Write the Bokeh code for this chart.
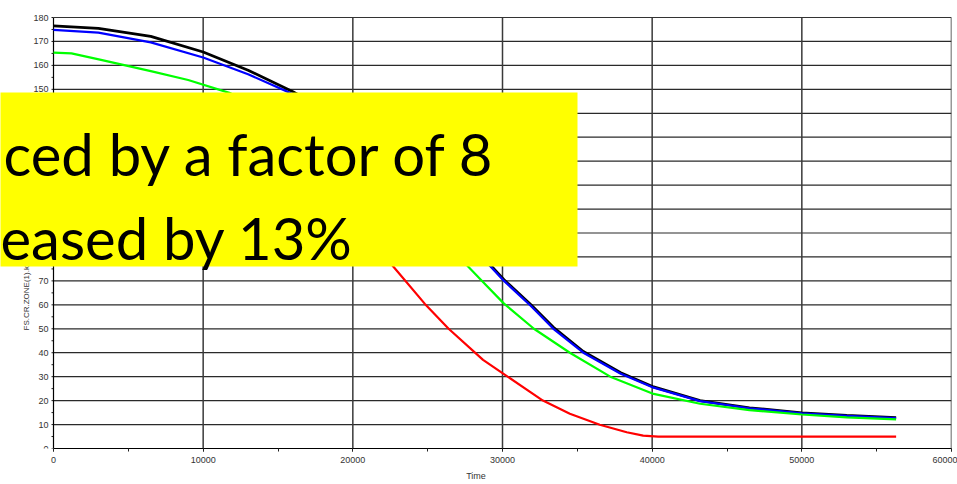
from math import pi

from bokeh.plotting import figure
from bokeh.models import Range1d, BoxAnnotation, Label, SingleIntervalTicker
from bokeh.embed import file_html
from bokeh.resources import INLINE

# Zone temperature history for four cases
black_t = [0, 3000, 6500, 10000, 13000, 16000, 18000, 20000, 22000, 24000, 26000, 28000,
           29200, 30100, 31900, 33400, 35400, 37900, 40100, 43200, 46500, 50000, 53000, 56300]
black_v = [176.5, 175.5, 172.1, 165.6, 158.0, 149.0, 141.8, 133.0, 122.5, 110.5, 97.5, 84.0,
           76.5, 70.5, 60.0, 50.6, 40.5, 31.6, 25.7, 20.0, 17.0, 14.9, 13.8, 12.9]

blue_t = [0, 3000, 6500, 10000, 13000, 16000, 18000, 20000, 22000, 24000, 26000, 28000,
          29200, 30100, 31900, 33400, 35400, 37900, 40100, 43200, 46500, 50000, 53000, 56300]
blue_v = [174.8, 173.7, 169.6, 163.3, 156.3, 148.0, 141.0, 132.5, 122.0, 110.0, 97.0, 83.5,
          76.0, 70.0, 59.5, 50.0, 40.0, 31.2, 25.4, 19.8, 16.8, 14.7, 13.6, 12.7]

green_t = [0, 1200, 3100, 6500, 9000, 11800, 14000, 16000, 18000, 20000, 22000, 24000, 26000,
           27700, 28600, 30100, 32100, 34500, 37200, 40100, 43200, 46500, 50000, 53000, 56300]
green_v = [165.3, 165.0, 162.4, 157.6, 153.9, 148.4, 143.0, 137.5, 130.5, 122.0, 112.5, 101.5, 88.5,
           76.0, 70.2, 60.5, 50.0, 40.0, 30.0, 22.8, 18.7, 16.0, 14.2, 13.0, 12.2]

red_t = [0, 4000, 8000, 12000, 16000, 18000, 20000, 22000, 22700, 24800, 26400, 28700, 29900,
         32700, 34500, 36500, 38300, 39400, 40400, 43200, 50000, 56300]
red_v = [146.0, 143.5, 138.0, 129.0, 115.0, 106.0, 95.0, 82.0, 76.0, 60.5, 50.0, 37.0, 31.9,
         20.0, 14.5, 9.9, 6.8, 5.4, 5.0, 5.0, 5.0, 5.0]

x_label = "Time"
y_label = "FS.CR.ZONE(1).k"
note_lines = ["ced by a factor of 8", "eased by 13%"]

X_MAX = 60000
X_STEP = 10000
Y_MAX = 180
Y_STEP = 10
TICK_FONT = "Liberation Sans"

# the data area is 898 x 431 px; the frame is widened by 53 px on the left and
# 17 px on top so the call-out panel and the tick labels can overlap the y axis
PLOT_W, PLOT_H = 898, 431
PAD_L, PAD_T = 53, 17
x_per_px = X_MAX / PLOT_W
y_per_px = Y_MAX / PLOT_H

p = figure(width=957, height=484, output_backend="svg", toolbar_location=None,
           x_range=Range1d(-PAD_L * x_per_px, X_MAX),
           y_range=Range1d(0, Y_MAX + PAD_T * y_per_px),
           min_border_left=0, min_border_right=6, min_border_top=0, min_border_bottom=36,
           background_fill_color="white", border_fill_color="white")
p.outline_line_color = None
p.grid.visible = False

p.xaxis.ticker = SingleIntervalTicker(interval=X_STEP, num_minor_ticks=2)
p.yaxis.ticker = SingleIntervalTicker(interval=Y_STEP, num_minor_ticks=2)
p.yaxis.fixed_location = 0
p.xaxis.bounds = (0, X_MAX)

for ax in (p.xaxis, p.yaxis):
    ax.major_tick_in = 0
    ax.minor_tick_in = 0
    ax.major_label_text_font = TICK_FONT
    ax.major_label_text_font_size = "9px"
    ax.major_label_text_color = "#333333"

p.xaxis.axis_line_color = "black"
p.xaxis.axis_line_width = 1.2
p.xaxis.major_tick_line_color = "#222222"
p.xaxis.minor_tick_line_color = "#222222"
p.xaxis.major_tick_out = 3
p.xaxis.minor_tick_out = 3
p.xaxis.major_label_standoff = 5
p.xaxis.axis_label = x_label
p.xaxis.axis_label_text_font = TICK_FONT
p.xaxis.axis_label_text_font_size = "9px"
p.xaxis.axis_label_text_font_style = "normal"
p.xaxis.axis_label_text_color = "#333333"
p.xaxis.axis_label_standoff = 5

# y axis keeps its labels; its spine and tick marks are drawn below at x = 0
p.yaxis.axis_line_color = None
p.yaxis.major_tick_line_color = None
p.yaxis.minor_tick_line_color = None
p.yaxis.major_tick_out = 0
p.yaxis.minor_tick_out = 0
p.yaxis.major_label_standoff = 5

# grid lines limited to the data area
y_grid = list(range(Y_STEP, Y_MAX, Y_STEP))
x_grid = list(range(X_STEP, X_MAX, X_STEP))
p.segment(x0=[0] * len(y_grid), x1=[X_MAX] * len(y_grid), y0=y_grid, y1=y_grid,
          line_color="#2a2a2a", line_width=1.2)
p.segment(x0=x_grid, x1=x_grid, y0=[0] * len(x_grid), y1=[Y_MAX] * len(x_grid),
          line_color="#3a3a3a", line_width=1.5)

# y spine, its tick marks, and the top / right edges of the data area
y_marks = list(range(0, Y_MAX + 1, Y_STEP // 2))
p.segment(x0=[0] * len(y_marks), x1=[-2 * x_per_px] * len(y_marks), y0=y_marks, y1=y_marks,
          line_color="#222222", line_width=1)
p.line([0, 0], [0, Y_MAX], line_color="black", line_width=1.2)
p.line([0, X_MAX], [Y_MAX, Y_MAX], line_color="#333333", line_width=1.2)
p.line([X_MAX, X_MAX], [0, Y_MAX], line_color="#333333", line_width=1.5)

p.line(black_t, black_v, line_color="black", line_width=2.8)
p.line(blue_t, blue_v, line_color="#0000ff", line_width=2.2)
p.line(green_t, green_v, line_color="#00ff00", line_width=2.2)
p.line(red_t, red_v, line_color="#ff0000", line_width=2.2)

# rotated quantity name beside the y axis
p.add_layout(Label(x=26, y=118, x_units="screen", y_units="screen", text=y_label,
                   angle=pi / 2, text_align="left", text_baseline="middle",
                   text_font=TICK_FONT, text_font_size="8px", text_color="#333333"))

# yellow call-out panel
p.add_layout(BoxAnnotation(left=-5, right=577, top=356, bottom=182,
                           left_units="screen", right_units="screen",
                           top_units="screen", bottom_units="screen",
                           fill_color="#ffff00", fill_alpha=1.0, line_color=None))

for txt, xs, base in zip(note_lines, [3, 0], [295, 211]):
    p.add_layout(Label(x=xs, y=base, x_units="screen", y_units="screen", text=txt,
                       text_align="left", text_baseline="alphabetic",
                       text_font="Lato", text_font_size="58px", text_color="black"))

open("out.html", "w").write(file_html(p, INLINE))
